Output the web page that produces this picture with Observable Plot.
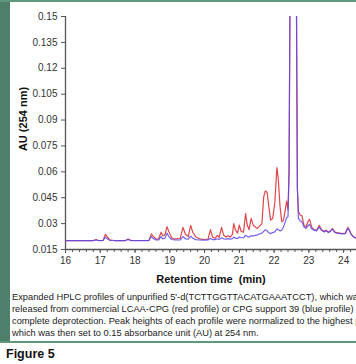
<!DOCTYPE html>
<html><head><meta charset="utf-8">
<script src="https://cdn.jsdelivr.net/npm/d3@7"></script>
<script src="https://cdn.jsdelivr.net/npm/@observablehq/plot@0.6"></script>
<style>
body{margin:0;background:#fff;font-family:"Liberation Sans",Arial,sans-serif;}
#wrap{position:relative;width:356px;height:364px;overflow:hidden;background:#fff;}
#chart{position:absolute;left:0;top:0;}
#band{position:absolute;left:0;top:0;width:10px;height:343px;background:#4d7f6b;z-index:2;}
#topline{position:absolute;left:0;top:0;width:356px;height:2px;background:#5f977c;z-index:2;}
#botline{position:absolute;left:0;top:341px;width:356px;height:2px;background:#5f977c;z-index:2;}
#ylab{position:absolute;left:23px;top:119px;transform:translate(-50%,-50%) rotate(-90deg);font-size:11px;font-weight:bold;color:#111;white-space:nowrap;z-index:3;}
#caption{position:absolute;left:12px;top:291px;width:344px;font-size:9.3px;line-height:12px;color:#222;white-space:nowrap;overflow:hidden;}
#fig{position:absolute;left:6px;top:347px;font-size:12.5px;font-weight:bold;color:#111;}
</style></head><body>
<div id="wrap">
  <div id="chart"></div>
  <div id="band"></div>
  <div id="topline"></div>
  <div id="botline"></div>
  <div id="ylab"></div>
  <div id="caption">Expanded HPLC profiles of unpurified 5'-d(TCTTGGTTACATGAAATCCT), which was<br>released from commercial LCAA-CPG (red profile) or CPG support 39 (blue profile) after<br>complete deprotection. Peak heights of each profile were normalized to the highest peak,<br>which was then set to 0.15 absorbance unit (AU) at 254 nm.</div>
  <div id="fig">Figure 5</div>
</div>
<script>
const times = [16.0,16.8,16.88,16.95,17.08,17.15,17.2,17.27,17.4,17.72,17.8,17.88,18.0,18.4,18.47,18.52,18.6,18.68,18.75,18.8,18.86,18.92,18.97,19.05,19.15,19.3,19.38,19.45,19.53,19.6,19.66,19.75,19.85,20.0,20.1,20.17,20.23,20.3,20.37,20.42,20.49,20.55,20.62,20.68,20.74,20.8,20.84,20.89,20.95,21.0,21.05,21.12,21.18,21.23,21.28,21.34,21.4,21.46,21.52,21.58,21.65,21.7,21.75,21.8,21.84,21.9,21.96,22.02,22.08,22.12,22.17,22.22,22.27,22.32,22.36,22.4,22.43,22.46,22.64,22.67,22.7,22.75,22.8,22.86,22.92,22.98,23.02,23.08,23.15,23.22,23.3,23.36,23.44,23.5,23.56,23.62,23.68,23.74,23.8,23.88,23.95,24.05,24.12,24.17,24.22,24.3,24.37];
const redProfile = [0.0202,0.0202,0.0207,0.0202,0.0203,0.0238,0.0225,0.0206,0.0202,0.0202,0.0210,0.0203,0.0202,0.0203,0.0240,0.0228,0.0210,0.0212,0.0250,0.0230,0.0235,0.0282,0.0255,0.0218,0.0210,0.0215,0.0278,0.0238,0.0225,0.0290,0.0250,0.0222,0.0212,0.0208,0.0210,0.0265,0.0222,0.0215,0.0232,0.0220,0.0278,0.0232,0.0222,0.0230,0.0222,0.0238,0.0300,0.0262,0.0245,0.0292,0.0255,0.0250,0.0358,0.0290,0.0265,0.0330,0.0290,0.0280,0.0272,0.0285,0.0300,0.0455,0.0490,0.0480,0.0410,0.0320,0.0330,0.0420,0.0625,0.0560,0.0400,0.0310,0.0320,0.0380,0.0430,0.0380,0.0600,0.1700,0.1700,0.0500,0.0370,0.0350,0.0345,0.0290,0.0280,0.0315,0.0325,0.0280,0.0265,0.0260,0.0290,0.0265,0.0255,0.0262,0.0250,0.0258,0.0272,0.0252,0.0248,0.0245,0.0242,0.0245,0.0278,0.0260,0.0238,0.0222,0.0215];
const blueProfile = [0.0202,0.0202,0.0205,0.0202,0.0202,0.0222,0.0212,0.0203,0.0202,0.0202,0.0208,0.0202,0.0202,0.0202,0.0225,0.0215,0.0205,0.0206,0.0225,0.0212,0.0215,0.0245,0.0225,0.0208,0.0205,0.0206,0.0225,0.0212,0.0210,0.0228,0.0215,0.0207,0.0205,0.0204,0.0205,0.0215,0.0207,0.0207,0.0212,0.0208,0.0218,0.0212,0.0210,0.0213,0.0210,0.0213,0.0222,0.0215,0.0214,0.0222,0.0218,0.0218,0.0232,0.0225,0.0222,0.0230,0.0228,0.0232,0.0235,0.0240,0.0245,0.0255,0.0265,0.0258,0.0248,0.0242,0.0248,0.0252,0.0270,0.0265,0.0258,0.0262,0.0280,0.0310,0.0335,0.0340,0.0600,0.1700,0.1700,0.0500,0.0330,0.0315,0.0310,0.0280,0.0272,0.0290,0.0295,0.0270,0.0262,0.0258,0.0280,0.0262,0.0252,0.0258,0.0248,0.0255,0.0268,0.0250,0.0245,0.0243,0.0240,0.0242,0.0272,0.0258,0.0236,0.0220,0.0215];
const yTicks = [0.015,0.03,0.045,0.06,0.075,0.09,0.105,0.12,0.135,0.15];
const yTickLabels = ["0.015","0.03","0.045","0.06","0.075","0.09","0.105","0.12","0.135","0.15"];
const xTicks = [16,17,18,19,20,21,22,23,24];
const xMinorTicks = d3.range(16, 24.37, 0.2).map(d => +d.toFixed(1));
const xLabel = "Retention time  (min)";
const yLabel = "AU (254 nm)";

document.getElementById("ylab").textContent = yLabel;

const redRows = times.map((t, i) => ({t, v: redProfile[i]}));
const blueRows = times.map((t, i) => ({t, v: blueProfile[i]}));

const chart = Plot.plot({
  width: 356, height: 290,
  marginLeft: 65, marginRight: 0, marginTop: 16, marginBottom: 41,
  style: {background: "transparent", fontFamily: "Liberation Sans, Arial, sans-serif", fontSize: "10px", color: "#333"},
  x: {domain: [16, 24.37]},
  y: {domain: [0.015, 0.15]},
  marks: [
    Plot.axisY(yTicks, {tickSize: 4, tickPadding: 4, tickFormat: (d) => yTickLabels[yTicks.indexOf(d)], label: null, stroke: "#555", fill: "#333", fontSize: 10}),
    Plot.axisX(xMinorTicks, {tickSize: 3, tickFormat: () => "", label: null, stroke: "#555"}),
    Plot.axisX(xTicks, {tickSize: 4, tickPadding: 3, label: null, stroke: "#555", fill: "#333", fontSize: 10}),
    Plot.ruleY([0.015], {stroke: "#555", strokeWidth: 1.3}),
    Plot.ruleX([16], {stroke: "#555", strokeWidth: 1.3}),
    Plot.line(redRows, {x: "t", y: "v", stroke: "#e0474a", strokeWidth: 1.2, clip: true}),
    Plot.line(blueRows, {x: "t", y: "v", stroke: "#5a48f0", strokeWidth: 1.2, strokeOpacity: 0.85, clip: true}),
    Plot.text([xLabel], {frameAnchor: "bottom", dy: 33, text: d => d, fontWeight: "bold", fontSize: 11, fill: "#111"})
  ]
});
document.getElementById("chart").appendChild(chart);
</script>
</body></html>
